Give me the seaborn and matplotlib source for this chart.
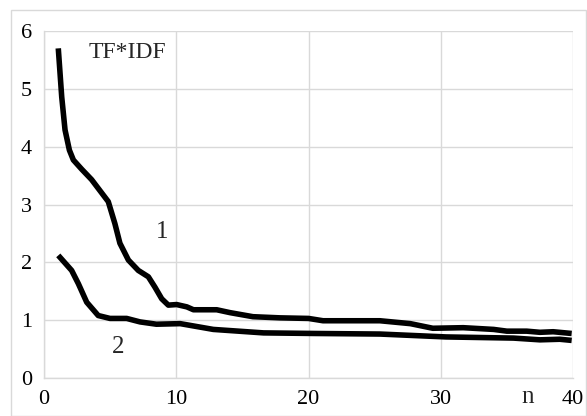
import matplotlib
matplotlib.use("Agg")
import matplotlib.pyplot as plt
import seaborn as sns
import pandas as pd
from matplotlib.patches import Rectangle

# Curve 1 (upper)
x1 = [1.08, 1.34, 1.59, 1.92, 2.22, 2.85, 3.6, 4.86, 5.36, 5.74, 6.38, 7.13, 7.89, 8.39,
      8.9, 9.4, 10.03, 10.8, 11.3, 13.06, 14.07, 15.8, 17.84, 20.0, 21.1, 25.4, 27.7,
      29.4, 31.7, 34.0, 35.0, 36.5, 37.5, 38.5, 39.9]
y1 = [5.70, 4.86, 4.29, 3.94, 3.77, 3.61, 3.43, 3.05, 2.67, 2.33, 2.04, 1.86, 1.75, 1.57,
      1.37, 1.26, 1.27, 1.23, 1.18, 1.18, 1.13, 1.06, 1.04, 1.03, 0.99, 0.99, 0.94,
      0.86, 0.87, 0.84, 0.81, 0.81, 0.79, 0.80, 0.77]
# Curve 2 (lower)
x2 = [1.08, 2.09, 2.6, 3.23, 4.1, 4.99, 6.25, 7.26, 8.5, 10.3, 12.8, 16.6, 20.4, 25.4,
      30.4, 35.5, 37.5, 39.0, 39.9]
y2 = [2.12, 1.86, 1.63, 1.31, 1.08, 1.03, 1.03, 0.97, 0.93, 0.94, 0.84, 0.78, 0.77, 0.76,
      0.71, 0.69, 0.66, 0.67, 0.65]

xticks = [0, 10, 20, 30, 40]
yticks = [0, 1, 2, 3, 4, 5, 6]

df = pd.concat([
    pd.DataFrame({"n": x1, "v": y1, "s": "1"}),
    pd.DataFrame({"n": x2, "v": y2, "s": "2"}),
])

sns.set_style("white")
plt.rcParams["font.family"] = ["Liberation Serif", "DejaVu Serif"]

fig = plt.figure(figsize=(5.87, 4.16), dpi=100)
ax = fig.add_axes([44/587, 1 - 378/416, (573-44)/587, (378-31)/416])

sns.lineplot(data=df, x="n", y="v", units="s", estimator=None, sort=False,
             color="black", linewidth=4.0, ax=ax, legend=False,
             solid_capstyle="butt", solid_joinstyle="round")

ax.set_xlim(0, 40)
ax.set_ylim(0, 6)
ax.set_xticks(xticks)
ax.set_yticks(yticks)
ax.set_xlabel("")
ax.set_ylabel("")
ax.grid(True, color="#d9d9d9", linewidth=1.0)
ax.set_axisbelow(True)
for side in ["top", "right"]:
    ax.spines[side].set_visible(False)
for side in ["left", "bottom"]:
    ax.spines[side].set_color("#d9d9d9")
    ax.spines[side].set_linewidth(1.0)
ax.tick_params(axis="both", which="major", direction="out", length=3.5, width=1.0,
               color="#d9d9d9", labelsize=16, labelcolor="black")
ax.tick_params(axis="x", pad=5)
ax.tick_params(axis="y", pad=5)

ax.text(6.3, 5.62, "TF*IDF", fontsize=17, ha="center", va="center")
ax.text(8.9, 2.53, "1", fontsize=18, ha="center", va="center")
ax.text(5.6, 0.54, "2", fontsize=18, ha="center", va="center")
ax.text(36.6, -0.33, "n", fontsize=18, ha="center", va="center", clip_on=False)

fig.patches.append(Rectangle((11/587, 0), (586-11)/587, 1 - 10/416,
                             transform=fig.transFigure, fill=False,
                             edgecolor="#d9d9d9", linewidth=1.0))

fig.savefig("out.png", dpi=100)
